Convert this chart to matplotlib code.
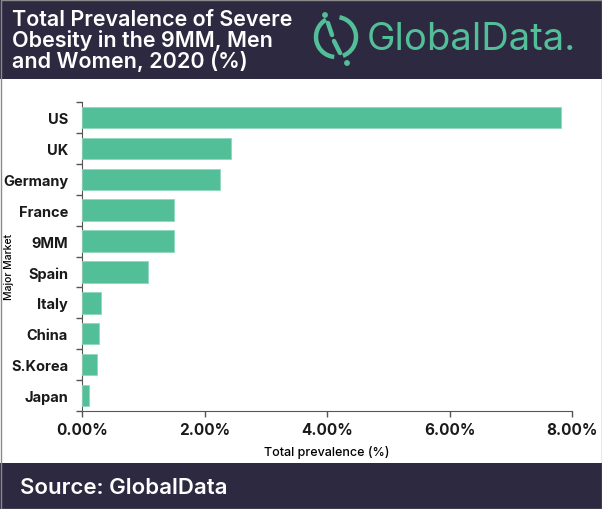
import matplotlib
matplotlib.use('Agg')
import matplotlib.pyplot as plt  # noqa E402
from matplotlib.patches import Rectangle, Arc, Circle  # noqa E402
import numpy as np  # noqa E402

# values (percent)
markets = ["US", "UK", "Germany", "France", "9MM", "Spain",
           "Italy", "China", "S.Korea", "Japan"]
prevalence = [7.82, 2.44, 2.26, 1.51, 1.51, 1.08, 0.31, 0.27, 0.24, 0.12]
xticks = [0, 2, 4, 6, 8]
xtick_labels = ["0.00%", "2.00%", "4.00%", "6.00%", "8.00%"]

dark = "#2d2940"
green = "#52bf99"
plt.rcParams['font.family'] = ['Inter', 'DejaVu Sans']

W, H = 602, 510
fig = plt.figure(figsize=(W / 100, H / 100), dpi=100)

# header and footer bands
fig.patches.append(Rectangle((0, 1 - 80 / H), 1, 80 / H, transform=fig.transFigure,
                             facecolor=dark, edgecolor="none", zorder=-2))
fig.patches.append(Rectangle((0, 0), 1, 46 / H, transform=fig.transFigure,
                             facecolor=dark, edgecolor="none", zorder=-2))
fig.patches.append(Rectangle((0.5 / W, 0.5 / H), 1 - 1 / W, 1 - 1 / H,
                             transform=fig.transFigure, facecolor="none",
                             edgecolor="#8a8a8a", linewidth=1, zorder=5))

title = "Total Prevalence of Severe\nObesity in the 9MM, Men\nand Women, 2020 (%)"
fig.text(12 / W, 1 - 41 / H, title, color="white", fontsize=15.5, fontweight="semibold",
         va="center", ha="left", linespacing=1.02)

# GlobalData logo
fig.text(367 / W, 1 - 40 / H, "GlobalData.", color=green, fontsize=27.5,
         fontweight="normal", va="center", ha="left")
lax = fig.add_axes([305 / W, 1 - 75 / H, 62 / W, 70 / H])
lax.set_xlim(0, 62)
lax.set_ylim(0, 70)
lax.axis("off")
cx, cy = 31, 37
lax.add_patch(Arc((cx, cy), 40, 40, theta1=120, theta2=265, color=green, lw=3.2))
lax.add_patch(Arc((cx, cy), 40, 40, theta1=290, theta2=80, color=green, lw=3.2))
lax.plot([cx - 8, cx - 4], [cy + 14, cy + 2], color=green, lw=3.2, solid_capstyle="round")
lax.plot([cx - 2, cx + 4], [cy - 4, cy - 16], color=green, lw=3.2, solid_capstyle="round")
lax.add_patch(Circle((cx - 11, cy + 22), 2.2, color=green))
lax.add_patch(Circle((cx + 11, cy - 26), 2.2, color=green))

# main chart
ax = fig.add_axes([82 / W, (H - 412) / H, (572 - 82) / W, (412 - 103) / H])
y = np.arange(len(markets))
ax.barh(y, prevalence, height=0.69, color=green, edgecolor="#8fd8bd",
        linewidth=0.6, clip_on=False, zorder=3)
ax.set_xlim(0, 8)
ax.set_ylim(len(markets) - 0.5, -0.5)
ax.set_yticks(y)
ax.set_yticklabels(markets, fontsize=10.5, fontweight="bold", color="#1a1a1a")
ax.set_yticks(np.arange(len(markets) + 1) - 0.5, minor=True)
ax.tick_params(axis="y", which="major", length=0, pad=10)
ax.tick_params(axis="y", which="minor", length=4, color="#555555", width=1)
ax.set_xticks(xticks)
ax.set_xticklabels(xtick_labels, fontsize=11, fontweight="bold", color="#1a1a1a")
ax.tick_params(axis="x", length=4, color="#555555", width=1, pad=4)
for s in ["top", "right"]:
    ax.spines[s].set_visible(False)
for s in ["left", "bottom"]:
    ax.spines[s].set_color("#555555")
ax.set_xlabel("Total prevalence (%)", fontsize=9, fontweight="medium", labelpad=6)
ax.set_ylabel("Major Market", fontsize=7.5, fontweight="medium")
ax.yaxis.set_label_coords(-68 / 490, 0.47)

fig.text(20 / W, 22 / H, "Source: GlobalData", color="white", fontsize=16,
         fontweight="semibold", va="center", ha="left")

fig.savefig("out.png", dpi=100)
